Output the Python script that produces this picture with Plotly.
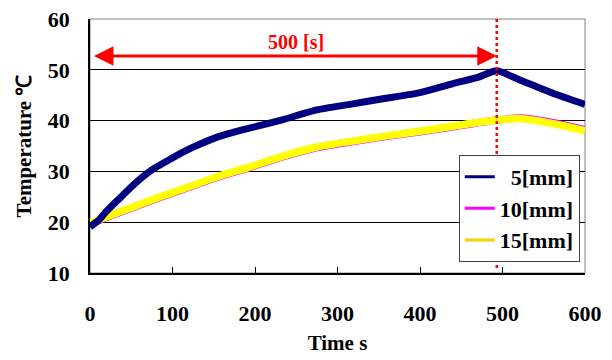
import plotly.graph_objects as go

# 5 mm series (navy)
t5 = [0, 10, 18, 34, 55, 75, 95, 115, 135, 155, 180, 208, 234, 275, 315, 355, 400, 440, 470, 493, 521, 561, 600]
T5 = [19.1, 20.3, 21.8, 24.4, 27.7, 30.3, 32.2, 34.0, 35.5, 36.8, 38.0, 39.1, 40.2, 42.1, 43.2, 44.3, 45.5, 47.3, 48.5, 49.8, 48.0, 45.4, 43.2]
# 10 mm series (magenta)
t10 = [0, 34, 75, 115, 155, 194, 234, 275, 315, 355, 400, 440, 493, 521, 561, 600]
T10 = [19.7, 21.8, 24.3, 26.6, 28.9, 30.8, 32.9, 34.7, 35.8, 36.8, 37.8, 38.8, 40.1, 40.5, 39.6, 38.2]
# 15 mm series (yellow)
t15 = [0, 34, 75, 115, 155, 194, 234, 275, 315, 355, 400, 440, 493, 521, 561, 600]
T15 = [19.8, 21.9, 24.4, 26.7, 29.0, 30.9, 33.0, 34.8, 35.9, 36.9, 37.9, 38.9, 40.1, 40.4, 39.4, 38.0]

names = ["<b>\u00a0\u00a05[mm]</b>", "<b>10[mm]</b>", "<b>15[mm]</b>"]
line_colors = ["#000080", "#FF00FF", "#FFFF00"]
legend_colors = ["#000080", "#FF00FF", "#FFCC00"]

x_ticks = [0, 100, 200, 300, 400, 500, 600]
y_ticks = [10, 20, 30, 40, 50, 60]
t_end = 493
arrow_T = 52.7

FONT = "Liberation Serif"

fig = go.Figure()
for (tx, ty), col, w in zip([(t10, T10), (t15, T15), (t5, T5)],
                            [line_colors[1], line_colors[2], line_colors[0]], [7.5, 7.5, 7]):
    fig.add_trace(go.Scatter(x=tx, y=ty, mode="lines", line=dict(color=col, width=w, shape="spline", smoothing=0.6),
                             showlegend=False, hoverinfo="skip"))
for n, c in zip(names, legend_colors):
    fig.add_trace(go.Scatter(x=[None], y=[None], mode="lines", name=n, line=dict(color=c, width=3)))

fig.add_shape(type="rect", xref="paper", yref="paper", x0=0, x1=1, y0=0, y1=1,
              line=dict(color="#808080", width=1), layer="below")
fig.add_shape(type="line", x0=t_end, x1=t_end, y0=11.0, y1=60, line=dict(color="#FF0000", width=2.5, dash="dot"))
fig.add_annotation(x=t_end, y=arrow_T, ax=3, ay=arrow_T, xref="x", yref="y", axref="x", ayref="y",
                   text="", showarrow=True, arrowhead=2, arrowside="end+start", arrowsize=1.3,
                   arrowwidth=3, arrowcolor="#FF0000", standoff=0, startstandoff=0)
fig.add_annotation(x=250, y=arrow_T, yshift=14, text="<b>500 [s]</b>", showarrow=False,
                   font=dict(family=FONT, size=20, color="#FF0000"))

fig.update_layout(
    width=612, height=360,
    margin=dict(l=90, r=27, t=19, b=87),
    paper_bgcolor="white", plot_bgcolor="white",
    font=dict(family=FONT, size=22, color="black"),
    legend=dict(x=0.745, y=0.465, xanchor="left", yanchor="top", bgcolor="white",
                bordercolor="#404040", borderwidth=1, font=dict(family=FONT, size=22),
                itemwidth=30, tracegroupgap=0),
    xaxis=dict(range=[0, 600], tickvals=x_ticks, ticktext=[f"<b>{v}</b>" for v in x_ticks],
               showgrid=False, zeroline=False, showline=True, linecolor="black", linewidth=1.5,
               ticks="inside", ticklen=6, tickcolor="black", ticklabelstandoff=20,
               tickfont=dict(family=FONT, size=22), automargin=False,
               title=dict(text="<b>Time s</b>", font=dict(family=FONT, size=21), standoff=10)),
    yaxis=dict(range=[10, 60], tickvals=y_ticks, ticktext=[f"<b>{v}</b>" for v in y_ticks],
               showgrid=True, gridcolor="black", gridwidth=1, zeroline=False,
               showline=True, linecolor="black", linewidth=1.5, ticks="", ticklabelstandoff=14,
               tickfont=dict(family=FONT, size=22), automargin=False,
               title=dict(text="<b>Temperature ℃</b>", font=dict(family=FONT, size=21), standoff=10)),
)
fig.write_html("out.html")
